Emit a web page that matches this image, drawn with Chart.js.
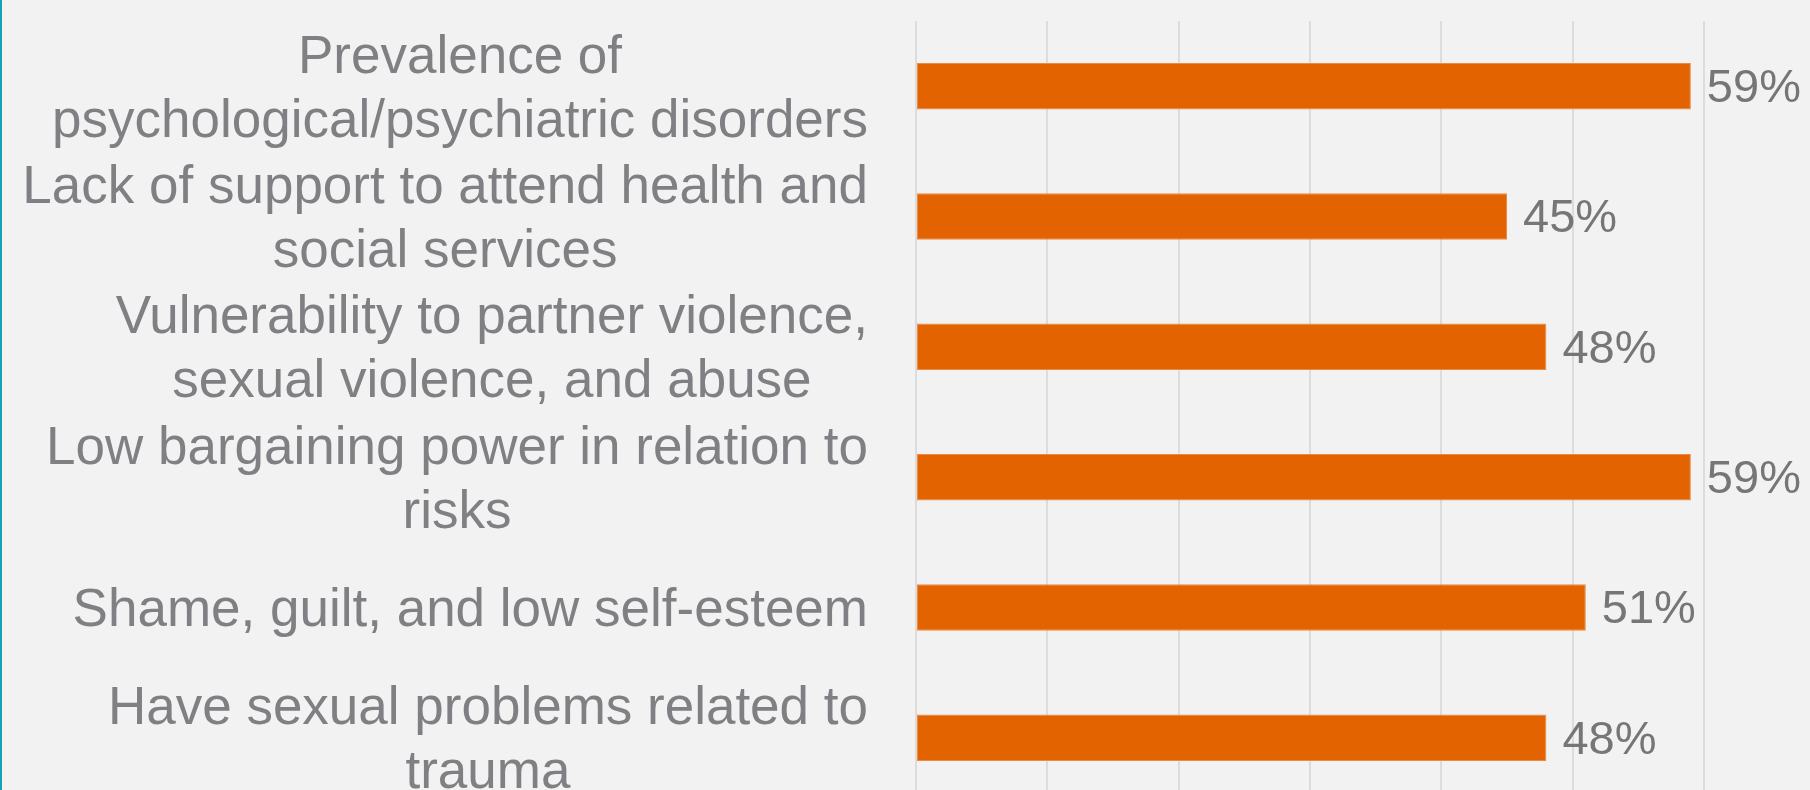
<!DOCTYPE html>
<html>
<head>
<meta charset="utf-8">
<script src="https://cdn.jsdelivr.net/npm/chart.js@4"></script>
<style>
    html, body {
        margin: 0;
        padding: 0;
        background: #f2f2f2;
        overflow: hidden;
    }
    #wrap {
        position: relative;
        width: 1810px;
        height: 810px;
    }
    #edge {
        position: absolute;
        left: 0;
        top: 0;
        width: 2px;
        height: 790px;
        background: #13a3b8;
        z-index: 2;
    }
</style>
</head>
<body>
<div id="wrap">
    <div id="edge"></div>
    <canvas id="barChart" width="1810" height="810"></canvas>
</div>
<script>
/* =========================================
   DATA
========================================= */

const categories = [
    ["Prevalence of", "psychological/psychiatric disorders"],
    ["Lack of support to attend health and", "social services"],
    ["Vulnerability to partner violence,", "sexual violence, and abuse"],
    ["Low bargaining power in relation to", "risks"],
    ["Shame, guilt, and low self-esteem"],
    ["Have sexual problems related to", "trauma"]
];

const percentValues = [59, 45, 48, 59, 51, 48];

const axisMin = 0;
const axisMax = 60;
const axisStep = 10;

const FONT = "'Liberation Sans', Arial, sans-serif";


/* =========================================
   PLUGINS
========================================= */

// category labels, each line centred, block right-aligned at the axis
const categoryLabels = {
    id: "categoryLabels",
    afterDraw(chart) {
        const ctx = chart.ctx;
        const scale = chart.scales.y;
        const rightEdge = 868;
        const lineHeight = 64;

        ctx.save();
        ctx.font = "53px " + FONT;
        ctx.fillStyle = "#808084";
        ctx.textAlign = "center";
        ctx.textBaseline = "middle";

        categories.forEach((lines, i) => {
            const y = scale.getPixelForTick(i) + 4;
            const widest = Math.max(...lines.map(l => ctx.measureText(l).width));
            const cx = rightEdge - widest / 2;
            const top = y - (lines.length - 1) * lineHeight / 2;
            lines.forEach((line, j) => {
                ctx.fillText(line, cx, top + j * lineHeight);
            });
        });

        ctx.restore();
    }
};

// value labels at the end of each bar
const valueLabels = {
    id: "valueLabels",
    afterDatasetsDraw(chart) {
        const ctx = chart.ctx;
        const meta = chart.getDatasetMeta(0);

        ctx.save();
        ctx.font = "47px " + FONT;
        ctx.fillStyle = "#767676";
        ctx.textAlign = "left";
        ctx.textBaseline = "middle";

        meta.data.forEach((bar, i) => {
            ctx.fillText(percentValues[i] + "%", bar.x + 16, bar.y + 3);
        });

        ctx.restore();
    }
};


/* =========================================
   CHART
========================================= */

const ctx = document.getElementById("barChart").getContext("2d");

new Chart(ctx, {

    type: "bar",

    data: {
        labels: categories,
        datasets: [
            {
                data: percentValues,
                backgroundColor: "#e36300",
                borderColor: "#ec8a45",
                borderWidth: 1,
                borderSkipped: false,
                categoryPercentage: 1,
                barPercentage: 0.357
            }
        ]
    },

    options: {
        indexAxis: "y",
        responsive: false,
        animation: false,

        layout: {
            padding: {
                top: 21,
                right: 106,
                bottom: 7,
                left: 0
            }
        },

        plugins: {
            legend: { display: false },
            tooltip: { enabled: false }
        },

        scales: {
            x: {
                min: axisMin,
                max: axisMax,
                ticks: {
                    display: false,
                    stepSize: axisStep
                },
                grid: {
                    color: "#dcdcdc",
                    lineWidth: 2,
                    drawTicks: false
                },
                border: { display: false }
            },
            y: {
                ticks: { display: false },
                grid: { display: false },
                border: { display: false },
                afterFit: function (scale) {
                    scale.width = 916;
                }
            }
        }
    },

    plugins: [categoryLabels, valueLabels]

});
</script>
</body>
</html>
